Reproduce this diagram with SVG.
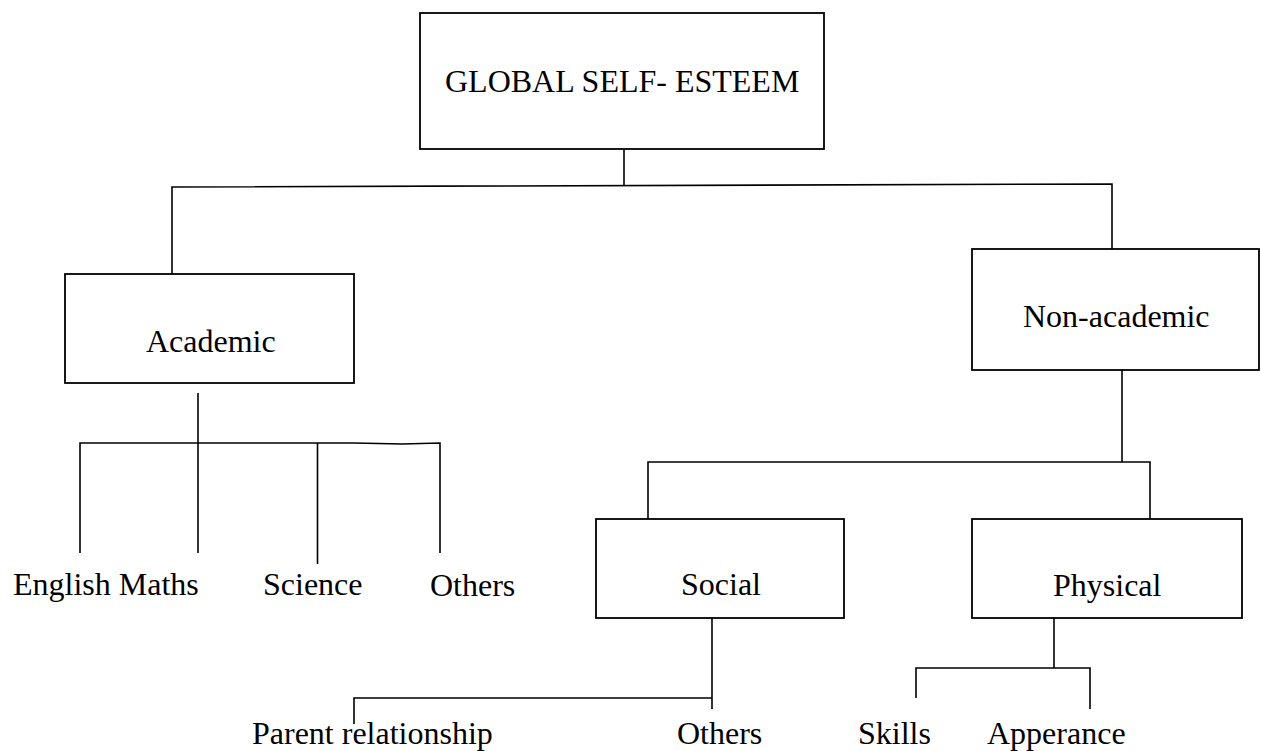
<svg xmlns="http://www.w3.org/2000/svg" width="1261" height="751" viewBox="0 0 1261 751">
<style>
.box{fill:#fff;stroke:#000;stroke-width:1.8}
.ln{fill:none;stroke:#000;stroke-width:1.6}
text{font-family:"Liberation Serif","Times New Roman",serif;font-size:32px;fill:#000}
</style>
<rect width="1261" height="751" fill="#fff"/>
<g id="connectors">
<path class="ln" d="M624,149 V185"/>
<path class="ln" d="M172,274 V187 L1112,184 V249"/>
<path class="ln" d="M198,393 V553"/>
<path class="ln" d="M80,553 V443 H354 L402,444 L440,443 V553"/>
<path class="ln" d="M317.5,443 V564"/>
<path class="ln" d="M1122,370 V462"/>
<path class="ln" d="M648,519 V462 H1150 V519"/>
<path class="ln" d="M712,618 V709"/>
<path class="ln" d="M354,724 V698 H712"/>
<path class="ln" d="M1054,618 V668"/>
<path class="ln" d="M916,698 V668 H1090 V709"/>
</g>
<g id="global">
<rect class="box" x="420" y="13" width="404" height="136"/>
<text x="445" y="92">GLOBAL SELF- ESTEEM</text>
</g>
<g id="academic">
<rect class="box" x="65" y="274" width="289" height="109"/>
<text x="146" y="352">Academic</text>
</g>
<g id="nonacademic">
<rect class="box" x="972" y="249" width="287" height="121"/>
<text x="1023" y="327">Non-academic</text>
</g>
<g id="social">
<rect class="box" x="596" y="519" width="248" height="99"/>
<text x="681" y="595">Social</text>
</g>
<g id="physical">
<rect class="box" x="972" y="519" width="270" height="99"/>
<text x="1053" y="596">Physical</text>
</g>
<g id="english-maths"><text x="13" y="595">English Maths</text></g>
<g id="science"><text x="263" y="595">Science</text></g>
<g id="others-academic"><text x="430" y="596">Others</text></g>
<g id="parent-relationship"><text x="252" y="744">Parent relationship</text></g>
<g id="others-social"><text x="677" y="744">Others</text></g>
<g id="skills"><text x="858" y="744">Skills</text></g>
<g id="apperance"><text x="987" y="744">Apperance</text></g>
</svg>
